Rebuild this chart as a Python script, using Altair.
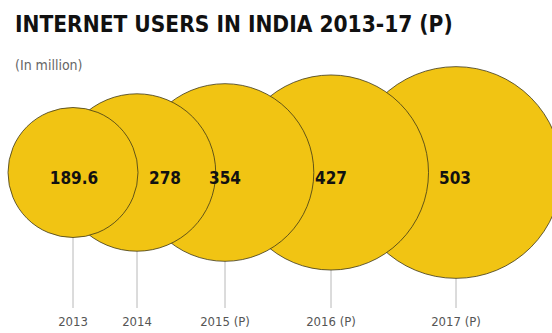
import altair as alt
import pandas as pd

# --- data ---
years = ["2013", "2014", "2015 (P)", "2016 (P)", "2017 (P)"]
users_million = [189.6, 278, 354, 427, 503]
value_labels = ["189.6", "278", "354", "427", "503"]

# --- layout (horizontal placement of the bubbles and their labels, px) ---
centre_x = [73, 137, 225, 331, 456]
label_x = [74, 165, 225, 331, 455]

W, H = 552, 333
TOP = 95           # plot area starts below title block
CENTRE_Y = 172.5   # bubble centres
RULE_END = 308
VALUE_Y = 179
YEAR_Y = 322

FONT = "DejaVu Sans Condensed, Liberation Sans Narrow, sans-serif"
FILL = "#F1C413"

df = pd.DataFrame({
    "year": years,
    "users": users_million,
    "label": value_labels,
    "cx": centre_x,
    "lx": label_x,
})

xscale = alt.Scale(domain=[0, W], range=[0, W])
x_enc = alt.X("cx:Q", scale=xscale, axis=None)

base = alt.Chart(df)

rules = base.mark_rule(color="#b8b8b8", strokeWidth=1).encode(
    x=x_enc,
    y=alt.value(CENTRE_Y - TOP),
    y2=alt.value(RULE_END - TOP),
)

bubbles = base.mark_circle(
    fill=FILL, opacity=1, fillOpacity=1, stroke="#3d3718", strokeWidth=0.8
).encode(
    x=x_enc,
    y=alt.value(CENTRE_Y - TOP),
    size=alt.Size("users:Q", scale=alt.Scale(domain=[0, 1000], range=[0, 89100]), legend=None),
    order=alt.Order("users:Q", sort="descending"),
)

values = base.mark_text(
    font=FONT, fontSize=17, fontWeight="bold", color="#111111", baseline="middle", align="center"
).encode(
    x=alt.X("lx:Q", scale=xscale, axis=None),
    y=alt.value(VALUE_Y - TOP),
    text="label:N",
)

year_labels = base.mark_text(
    font=FONT, fontSize=13, color="#555555", baseline="middle", align="center"
).encode(
    x=x_enc,
    y=alt.value(YEAR_Y - TOP),
    text="year:N",
)

chart = (
    alt.layer(rules, bubbles, values, year_labels)
    .properties(
        width=W,
        height=H - TOP,
        autosize=alt.AutoSizeParams(type="none"),
        padding={"left": 0, "top": TOP, "right": 0, "bottom": 0},
        title=alt.TitleParams(
            text="INTERNET USERS IN INDIA 2013-17 (P)",
            subtitle="(In million)",
            anchor="start",
            frame="group",
            dx=15,
            offset=-8,
            font=FONT,
            fontSize=22.5,
            fontWeight="bold",
            color="#111111",
            subtitleFont=FONT,
            subtitleFontSize=14,
            subtitleColor="#666666",
            subtitlePadding=23,
        ),
    )
    .configure_view(stroke=None)
)

chart.save("out.html", embed_options={"renderer": "svg", "actions": False})
